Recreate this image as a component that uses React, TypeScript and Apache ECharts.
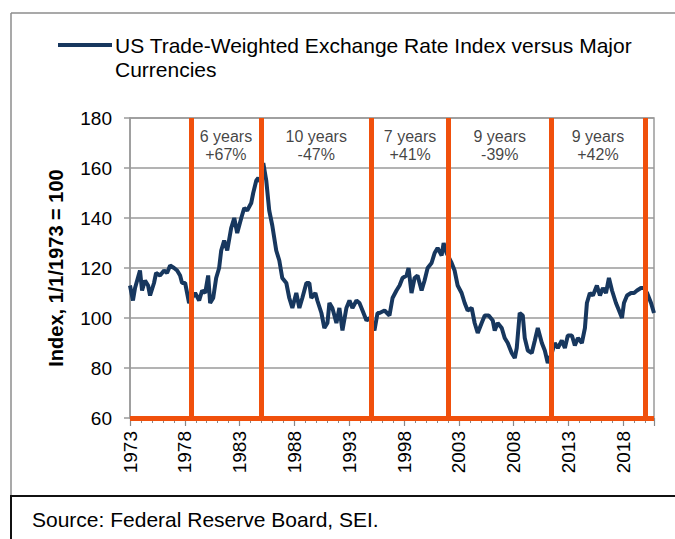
import React, { useEffect, useRef } from "react";
import * as echarts from "echarts";

const FONT = "Liberation Sans, Arial, Helvetica, sans-serif";
const NAVY = "#17375E";
const ORANGE = "#F0500C";
const GRID_GRAY = "#9A9A9A";
const BASE_YEAR = 1973;

const SERIES_NAME = "US Trade-Weighted Exchange Rate Index versus Major\nCurrencies";
const Y_NAME = "Index, 1/1/1973 = 100";
const SOURCE = "Source: Federal Reserve Board, SEI.";

// [decimal year, index value]
const data1970s: [number, number][] = [
  [1973.0, 113], [1973.27, 107], [1973.46, 112], [1973.91, 119], [1974.1, 111],
  [1974.37, 115], [1974.65, 113], [1974.83, 109], [1975.19, 114], [1975.38, 118],
  [1975.74, 117], [1976.11, 119], [1976.38, 118], [1976.66, 121], [1977.02, 120],
  [1977.3, 119], [1977.57, 117], [1977.75, 114], [1978.03, 114], [1978.39, 106],
  [1978.94, 110], [1979.31, 107], [1979.58, 111], [1979.86, 110],
];
const data1980s: [number, number][] = [
  [1980.13, 117], [1980.31, 106], [1980.59, 108], [1980.86, 116], [1981.13, 120],
  [1981.32, 127], [1981.59, 131], [1981.87, 127], [1982.23, 136], [1982.51, 140],
  [1982.78, 134], [1983.15, 140], [1983.42, 144], [1983.69, 143], [1984.06, 146],
  [1984.24, 150], [1984.52, 155], [1984.7, 156], [1984.97, 154], [1985.16, 162],
  [1985.43, 155], [1985.7, 143], [1985.98, 137], [1986.34, 127], [1986.62, 123],
  [1986.89, 116], [1987.26, 114], [1987.53, 108], [1987.81, 104], [1988.17, 110],
  [1988.45, 104], [1988.72, 108], [1989.09, 114], [1989.36, 114], [1989.54, 108],
  [1989.91, 110],
];
const data1990s: [number, number][] = [
  [1990.09, 107], [1990.46, 102], [1990.73, 96], [1991.01, 98], [1991.19, 106],
  [1991.46, 104], [1991.83, 98], [1992.1, 104], [1992.38, 95], [1992.74, 104],
  [1993.02, 107], [1993.29, 104], [1993.66, 107], [1993.93, 106], [1994.21, 103],
  [1994.57, 99], [1994.85, 100], [1995.3, 95], [1995.58, 102], [1995.76, 102],
  [1996.22, 103], [1996.67, 101], [1996.95, 108], [1997.31, 111], [1997.59, 113],
  [1997.86, 116], [1998.23, 117], [1998.41, 120], [1998.68, 110], [1998.96, 116],
  [1999.23, 117], [1999.6, 111], [1999.87, 115],
];
const data2000s: [number, number][] = [
  [2000.15, 120], [2000.51, 122], [2000.79, 126], [2001.06, 128], [2001.43, 125],
  [2001.61, 130], [2001.88, 126], [2002.34, 122], [2002.61, 119], [2002.89, 113],
  [2003.25, 110], [2003.53, 106], [2003.8, 103], [2004.17, 104], [2004.44, 98],
  [2004.72, 94], [2005.08, 98], [2005.36, 101], [2005.72, 101], [2006.09, 99],
  [2006.27, 95], [2006.54, 98], [2006.91, 96], [2007.18, 92], [2007.46, 90],
  [2007.82, 86], [2008.1, 84], [2008.28, 88], [2008.55, 102], [2008.83, 101],
  [2009.01, 92], [2009.29, 87], [2009.65, 86], [2009.93, 91],
];
const data2010s: [number, number][] = [
  [2010.2, 96], [2010.57, 90], [2010.84, 87], [2011.11, 82], [2011.48, 86],
  [2011.75, 90], [2012.03, 88], [2012.39, 91], [2012.67, 88], [2012.94, 93],
  [2013.31, 93], [2013.58, 89], [2013.86, 92], [2014.22, 90], [2014.5, 96],
  [2014.68, 106], [2014.95, 110], [2015.23, 109], [2015.59, 113], [2015.87, 109],
  [2016.14, 112], [2016.42, 110], [2016.69, 116], [2016.97, 111], [2017.33, 106],
  [2017.61, 103], [2017.88, 100], [2018.06, 106], [2018.34, 109], [2018.7, 110],
  [2018.98, 110], [2019.25, 111], [2019.61, 112], [2019.89, 112], [2020.17, 110],
  [2020.53, 106], [2020.8, 102],
];

// turning points (decimal years) marked with orange lines
const turningPoints = [1978.55, 1984.95, 1995.03, 2002.07, 2011.39, 2019.98];
const periodLabels = [
  "6 years\n+67%",
  "10 years\n-47%",
  "7 years\n+41%",
  "9 years\n-39%",
  "9 years\n+42%",
];
const labelLevel = 169;

const X_MAX_YEAR = 2020.8;
const Y_MIN = 60;
const Y_MAX = 180;
const Y_STEP = 20;

export default function App() {
  const ref = useRef<HTMLDivElement>(null);

  useEffect(() => {
    if (!ref.current) return;
    const chart = echarts.init(ref.current, null, { renderer: "svg" });

    const all = [...data1970s, ...data1980s, ...data1990s, ...data2000s, ...data2010s];
    const lineData = all.map(([y, v]) => [y - BASE_YEAR, v]);
    const labelData = periodLabels.map((txt, i) => ({
      value: [(turningPoints[i] + turningPoints[i + 1]) / 2 - BASE_YEAR, labelLevel],
      label: { formatter: txt },
    }));

    chart.setOption({
      animation: false,
      backgroundColor: "#fff",
      textStyle: { fontFamily: FONT },
      grid: {
        left: 130,
        top: 118,
        width: 524,
        height: 300,
        show: true,
        borderColor: GRID_GRAY,
        borderWidth: 1.5,
      },
      xAxis: {
        type: "value",
        min: 0,
        max: X_MAX_YEAR - BASE_YEAR,
        interval: 5,
        axisLine: { show: false },
        axisTick: { show: true, length: 8, lineStyle: { color: "#888", width: 1.2 } },
        minorTick: { show: true, splitNumber: 5, length: 5, lineStyle: { color: "#888", width: 1 } },
        splitLine: { show: false },
        minorSplitLine: { show: false },
        axisLabel: {
          rotate: 90,
          margin: 13,
          fontSize: 19,
          color: "#000",
          fontFamily: FONT,
          showMaxLabel: false,
          formatter: (v: number) => String(Math.round(BASE_YEAR + v)),
        },
      },
      yAxis: {
        type: "value",
        min: Y_MIN,
        max: Y_MAX,
        interval: Y_STEP,
        name: Y_NAME,
        nameLocation: "middle",
        nameGap: 64,
        nameTextStyle: { fontSize: 20, fontWeight: "bold", color: "#000", fontFamily: FONT },
        axisLine: { show: true, lineStyle: { color: GRID_GRAY, width: 1.5 } },
        axisTick: { show: true, length: 6, lineStyle: { color: GRID_GRAY, width: 1.5 } },
        splitLine: { show: true, lineStyle: { color: GRID_GRAY, width: 1.5 } },
        axisLabel: { fontSize: 19, color: "#000", margin: 18, fontFamily: FONT },
      },
      series: [
        {
          name: SERIES_NAME,
          type: "line",
          data: lineData,
          showSymbol: false,
          symbol: "none",
          z: 2,
          lineStyle: { color: NAVY, width: 4 },
        },
        {
          type: "scatter",
          data: labelData,
          symbolSize: 1,
          itemStyle: { color: "rgba(0,0,0,0)" },
          z: 4,
          silent: true,
          label: {
            show: true,
            position: "inside",
            fontSize: 16,
            lineHeight: 18,
            color: "#111",
            fontFamily: FONT,
            align: "center",
          },
          markLine: {
            symbol: "none",
            silent: true,
            animation: false,
            label: { show: false },
            lineStyle: { color: ORANGE, width: 5, type: "solid" },
            data: [
              ...turningPoints.map((y) => ({ xAxis: y - BASE_YEAR })),
              { yAxis: Y_MIN },
            ],
          },
        },
      ],
      graphic: [
        { type: "line", shape: { x1: 11, y1: 13, x2: 675, y2: 13 }, style: { stroke: "#8C8C8C", lineWidth: 1.5 } },
        { type: "line", shape: { x1: 11, y1: 13, x2: 11, y2: 496 }, style: { stroke: "#8C8C8C", lineWidth: 1.5 } },
        { type: "line", shape: { x1: 10, y1: 496, x2: 675, y2: 496 }, style: { stroke: "#111", lineWidth: 2 } },
        { type: "line", shape: { x1: 11, y1: 496, x2: 11, y2: 539 }, style: { stroke: "#111", lineWidth: 2 } },
        { type: "line", shape: { x1: 58, y1: 45, x2: 112, y2: 45 }, style: { stroke: NAVY, lineWidth: 4 } },
        {
          type: "text",
          x: 115,
          y: 33,
          style: {
            text: SERIES_NAME,
            font: `21px ${FONT}`,
            fill: "#000",
            lineHeight: 24,
            verticalAlign: "top",
          },
        },
        {
          type: "text",
          x: 32,
          y: 519,
          style: {
            text: SOURCE,
            font: `21px ${FONT}`,
            fill: "#000",
            verticalAlign: "middle",
          },
        },
      ],
    });

    return () => chart.dispose();
  }, []);

  return (
    <div
      ref={ref}
      style={{ position: "absolute", left: 0, top: 0, width: 675, height: 539, background: "#fff" }}
    />
  );
}
